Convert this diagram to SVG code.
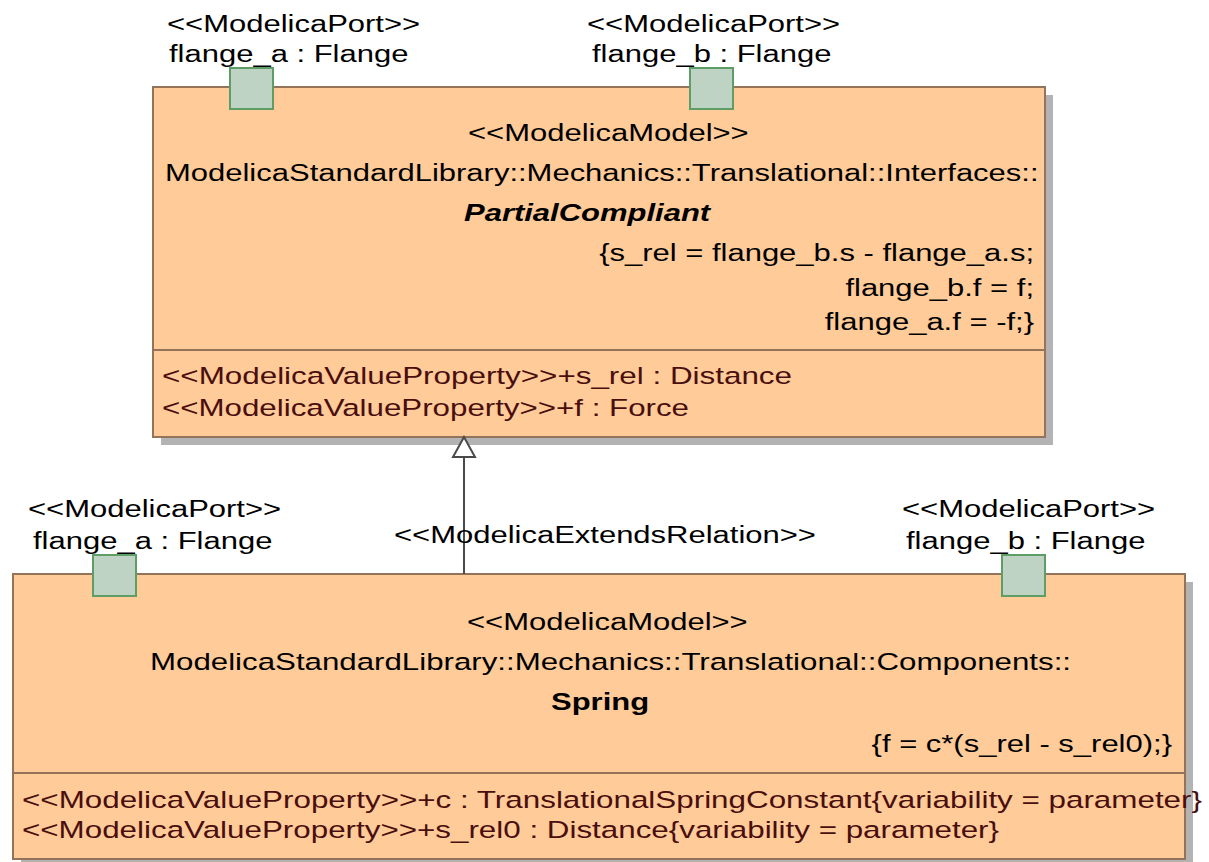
<svg xmlns="http://www.w3.org/2000/svg" width="1209" height="862" viewBox="0 0 1209 862">
<style>
.t{font-family:"Liberation Sans",Arial,sans-serif;font-size:24.5px;fill:#000}
.p{fill:#4a0e0e}
.b{font-weight:bold}
.bi{font-weight:bold;font-style:italic}
.box{fill:#ffcb99;stroke:#93745a;stroke-width:2}
.sh{fill:#b3b3b3}
.div{stroke:#93745a;stroke-width:2}
.port{fill:#bed3c3;stroke:#5f9d66;stroke-width:2}
.conn{stroke:#4a4a4a;stroke-width:2;fill:none}
.head{stroke:#4a4a4a;stroke-width:2;fill:#ffffff}
</style>
<rect width="1209" height="862" fill="#ffffff"/>
<g id="PartialCompliant">
<rect class="sh" x="161" y="95" width="892" height="350"/>
<rect class="box" x="153" y="87" width="892" height="350"/>
<line class="div" x1="153" y1="350" x2="1045" y2="350"/>
<text class="t" transform="translate(468,141) scale(1.265,1)">&lt;&lt;ModelicaModel&gt;&gt;</text>
<text class="t" transform="translate(165,181) scale(1.265,1)">ModelicaStandardLibrary::Mechanics::Translational::Interfaces::</text>
<text class="t bi" transform="translate(464,221) scale(1.265,1)">PartialCompliant</text>
<text class="t" text-anchor="end" transform="translate(1034,261) scale(1.265,1)">{s_rel = flange_b.s - flange_a.s;</text>
<text class="t" text-anchor="end" transform="translate(1034,296) scale(1.265,1)">flange_b.f = f;</text>
<text class="t" text-anchor="end" transform="translate(1034,330) scale(1.265,1)">flange_a.f = -f;}</text>
<text class="t p" x="162" y="384" textLength="630" lengthAdjust="spacingAndGlyphs">&lt;&lt;ModelicaValueProperty&gt;&gt;+s_rel : Distance</text>
<text class="t p" x="162" y="416" textLength="527" lengthAdjust="spacingAndGlyphs">&lt;&lt;ModelicaValueProperty&gt;&gt;+f : Force</text>
</g>
<g id="PC_flange_a">
<rect class="port" x="230" y="68" width="43" height="41"/>
<text class="t" transform="translate(167,32) scale(1.265,1)">&lt;&lt;ModelicaPort&gt;&gt;</text>
<text class="t" transform="translate(169,62) scale(1.265,1)">flange_a : Flange</text>
</g>
<g id="PC_flange_b">
<rect class="port" x="690" y="68" width="43" height="41"/>
<text class="t" transform="translate(587,32) scale(1.265,1)">&lt;&lt;ModelicaPort&gt;&gt;</text>
<text class="t" transform="translate(592,62) scale(1.265,1)">flange_b : Flange</text>
</g>
<g id="Spring">
<rect class="sh" x="21" y="582" width="1172" height="286"/>
<rect class="box" x="13" y="574" width="1172" height="285"/>
<line class="div" x1="13" y1="773" x2="1185" y2="773"/>
<text class="t" transform="translate(467,630) scale(1.265,1)">&lt;&lt;ModelicaModel&gt;&gt;</text>
<text class="t" x="150" y="670" textLength="921" lengthAdjust="spacingAndGlyphs">ModelicaStandardLibrary::Mechanics::Translational::Components::</text>
<text class="t b" transform="translate(551,710) scale(1.265,1)">Spring</text>
<text class="t" text-anchor="end" transform="translate(1172,752) scale(1.265,1)">{f = c*(s_rel - s_rel0);}</text>
<text class="t p" x="22" y="808" textLength="1180" lengthAdjust="spacingAndGlyphs">&lt;&lt;ModelicaValueProperty&gt;&gt;+c : TranslationalSpringConstant{variability = parameter}</text>
<text class="t p" x="22" y="838" textLength="977" lengthAdjust="spacingAndGlyphs">&lt;&lt;ModelicaValueProperty&gt;&gt;+s_rel0 : Distance{variability = parameter}</text>
</g>
<g id="S_flange_a">
<rect class="port" x="93" y="555" width="43" height="41"/>
<text class="t" transform="translate(28,517) scale(1.265,1)">&lt;&lt;ModelicaPort&gt;&gt;</text>
<text class="t" transform="translate(33,549) scale(1.265,1)">flange_a : Flange</text>
</g>
<g id="S_flange_b">
<rect class="port" x="1002" y="555" width="43" height="41"/>
<text class="t" transform="translate(902,517) scale(1.265,1)">&lt;&lt;ModelicaPort&gt;&gt;</text>
<text class="t" transform="translate(906,549) scale(1.265,1)">flange_b : Flange</text>
</g>
<g id="connectors">
<line class="conn" x1="464" y1="574" x2="464" y2="457"/>
<polygon class="head" points="464,437 453,457 475,457"/>
<text class="t" transform="translate(394,543) scale(1.265,1)">&lt;&lt;ModelicaExtendsRelation&gt;&gt;</text>
</g>
</svg>
